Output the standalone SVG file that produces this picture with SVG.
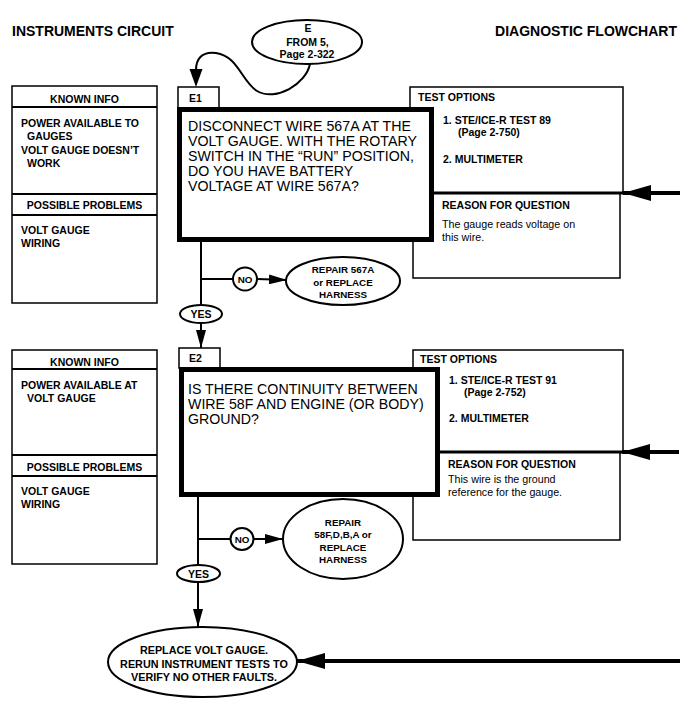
<svg xmlns="http://www.w3.org/2000/svg" width="693" height="714" viewBox="0 0 693 714">
<style>
text{font-family:"Liberation Sans",Arial,Helvetica,sans-serif;fill:#000}
.title{font-size:14px;font-weight:bold}
.q{font-size:14.2px}
.sm{font-size:10.5px;font-weight:bold}
.rs{font-size:10.7px}
.ov{font-size:9.8px;font-weight:bold}
.lbl{font-size:10.5px;font-weight:bold}
.thin{fill:#fff;stroke:#000;stroke-width:1.5}
.thick{fill:#fff;stroke:#000;stroke-width:5}
.oval{fill:#fff;stroke:#000;stroke-width:2}
.line{fill:none;stroke:#000;stroke-width:2}
.bigline{fill:none;stroke:#000;stroke-width:4}
.c{text-anchor:middle}
</style>
<defs>
<marker id="arr" markerUnits="userSpaceOnUse" markerWidth="18" markerHeight="10" refX="18" refY="5" orient="auto"><path d="M0,0 L18,5 L0,10 z" fill="#000"/></marker>
<marker id="big" markerUnits="userSpaceOnUse" markerWidth="28" markerHeight="16" refX="28" refY="8" orient="auto"><path d="M0,0 L28,8 L0,16 z" fill="#000"/></marker>
</defs>
<rect width="693" height="714" fill="#fff"/>
<text class="title" x="12" y="36">INSTRUMENTS CIRCUIT</text>
<text class="title" x="677" y="36" text-anchor="end">DIAGNOSTIC FLOWCHART</text>

<!-- Step E1 side panels -->
<g id="known1">
<rect class="thin" x="12" y="86" width="145" height="217"/>
<line class="line" x1="12" y1="107" x2="157" y2="107" stroke-width="1.5"/>
<line class="line" x1="12" y1="194" x2="157" y2="194" stroke-width="1.5"/>
<line class="line" x1="12" y1="215" x2="157" y2="215" stroke-width="1.5"/>
<text class="sm c" x="84.5" y="103">KNOWN INFO</text>
<text class="sm" x="21" y="127">POWER AVAILABLE TO</text>
<text class="sm" x="27" y="140">GAUGES</text>
<text class="sm" x="21" y="154">VOLT GAUGE DOESN’T</text>
<text class="sm" x="27" y="167">WORK</text>
<text class="sm c" x="84.5" y="209">POSSIBLE PROBLEMS</text>
<text class="sm" x="21" y="234">VOLT GAUGE</text>
<text class="sm" x="21" y="247">WIRING</text>
</g>
<g id="test1">
<rect class="thin" x="410" y="87" width="213" height="106"/>
<rect class="thin" x="413" y="193" width="207" height="85"/>
<line x1="432" y1="193" x2="623" y2="193" stroke="#000" stroke-width="3"/>
<text class="sm" x="418" y="101">TEST OPTIONS</text>
<text class="sm" x="443" y="124">1. STE/ICE-R TEST 89</text>
<text class="sm" x="458" y="136">(Page 2-750)</text>
<text class="sm" x="443" y="163">2. MULTIMETER</text>
<text class="sm" x="442" y="209">REASON FOR QUESTION</text>
<text class="rs" x="442" y="228">The gauge reads voltage on</text>
<text class="rs" x="442" y="241">this wire.</text>
</g>

<!-- Step E2 side panels -->
<g id="known2">
<rect class="thin" x="12" y="350" width="145" height="214"/>
<line class="line" x1="12" y1="369" x2="157" y2="369" stroke-width="1.5"/>
<line class="line" x1="12" y1="455" x2="157" y2="455" stroke-width="1.5"/>
<line class="line" x1="12" y1="476" x2="157" y2="476" stroke-width="1.5"/>
<text class="sm c" x="84.5" y="366">KNOWN INFO</text>
<text class="sm" x="21" y="389">POWER AVAILABLE AT</text>
<text class="sm" x="27" y="402">VOLT GAUGE</text>
<text class="sm c" x="84.5" y="471">POSSIBLE PROBLEMS</text>
<text class="sm" x="21" y="495">VOLT GAUGE</text>
<text class="sm" x="21" y="508">WIRING</text>
</g>
<g id="test2">
<rect class="thin" x="413" y="350" width="210" height="102"/>
<rect class="thin" x="413" y="452" width="207" height="88"/>
<line x1="438" y1="452" x2="623" y2="452" stroke="#000" stroke-width="3"/>
<text class="sm" x="420" y="363">TEST OPTIONS</text>
<text class="sm" x="449" y="384">1. STE/ICE-R TEST 91</text>
<text class="sm" x="464" y="396">(Page 2-752)</text>
<text class="sm" x="449" y="422">2. MULTIMETER</text>
<text class="sm" x="448" y="468">REASON FOR QUESTION</text>
<text class="rs" x="448" y="483">This wire is the ground</text>
<text class="rs" x="448" y="496">reference for the gauge.</text>
</g>

<!-- Question boxes -->
<g id="E1">
<rect class="thin" x="178" y="87" width="41" height="21"/>
<text class="lbl" x="189" y="101.5">E1</text>
<rect class="thick" x="179.5" y="109.5" width="252" height="130"/>
<text class="q" x="188" y="131">DISCONNECT WIRE 567A AT THE</text>
<text class="q" x="188" y="146">VOLT GAUGE. WITH THE ROTARY</text>
<text class="q" x="188" y="161">SWITCH IN THE “RUN” POSITION,</text>
<text class="q" x="188" y="176">DO YOU HAVE BATTERY</text>
<text class="q" x="188" y="191">VOLTAGE AT WIRE 567A?</text>
</g>
<g id="E2">
<rect class="thin" x="179" y="348" width="41" height="20"/>
<text class="lbl" x="189" y="362">E2</text>
<rect class="thick" x="181.5" y="369.5" width="256" height="125"/>
<text class="q" x="188" y="394">IS THERE CONTINUITY BETWEEN</text>
<text class="q" x="188" y="409">WIRE 58F AND ENGINE (OR BODY)</text>
<text class="q" x="188" y="424">GROUND?</text>
</g>

<!-- Connectors -->
<g id="connectors">
<path class="line" d="M310,64 C306,84 276,102 257,91 C242,82 238,56 216,53 C201,51 196,60 196,70" />
<path d="M189.5,69 L202.5,69 L196,87 z" fill="#000"/>
<line class="line" x1="201" y1="242" x2="201" y2="305"/>
<line class="line" x1="201" y1="279" x2="233" y2="279"/>
<line class="line" x1="257" y1="279" x2="287" y2="280" marker-end="url(#arr)"/>
<line class="line" x1="201" y1="323" x2="201" y2="348" marker-end="url(#arr)"/>
<line class="line" x1="198" y1="497" x2="198" y2="565"/>
<line class="line" x1="198" y1="539" x2="230.5" y2="539"/>
<line class="line" x1="253.5" y1="539" x2="283" y2="539" marker-end="url(#arr)"/>
<line class="line" x1="198" y1="582" x2="198" y2="627" marker-end="url(#arr)"/>
<line class="bigline" x1="680" y1="193" x2="623" y2="193" marker-end="url(#big)"/>
<line class="bigline" x1="679" y1="452" x2="622" y2="452" marker-end="url(#big)"/>
<line class="bigline" x1="680" y1="661" x2="297" y2="661" marker-end="url(#big)"/>
</g>

<!-- Ovals -->
<g id="E">
<ellipse class="oval" cx="307" cy="42" rx="55" ry="22"/>
<text class="lbl c" x="308" y="32">E</text>
<text class="lbl c" x="307.5" y="45.5">FROM 5,</text>
<text class="lbl c" x="307" y="58">Page 2-322</text>
</g>
<g id="no1">
<ellipse class="oval" cx="245" cy="279" rx="12" ry="11.5"/>
<text class="ov c" x="245" y="283" font-weight="normal">NO</text>
</g>
<g id="yes1">
<ellipse class="oval" cx="201" cy="314" rx="21" ry="9"/>
<text class="lbl c" x="201" y="318">YES</text>
</g>
<g id="repair1">
<ellipse class="oval" cx="343" cy="281" rx="57" ry="24"/>
<text class="ov c" x="343" y="273">REPAIR 567A</text>
<text class="ov c" x="343" y="286">or REPLACE</text>
<text class="ov c" x="343" y="298">HARNESS</text>
</g>
<g id="no2">
<ellipse class="oval" cx="242" cy="539" rx="11.5" ry="11"/>
<text class="ov c" x="242" y="543" font-weight="normal">NO</text>
</g>
<g id="yes2">
<ellipse class="oval" cx="198.5" cy="573.5" rx="21.5" ry="8.5"/>
<text class="lbl c" x="198.5" y="577.5">YES</text>
</g>
<g id="repair2">
<ellipse class="oval" cx="343" cy="539" rx="60" ry="40"/>
<text class="ov c" x="343" y="526">REPAIR</text>
<text class="ov c" x="343" y="538">58F,D,B,A or</text>
<text class="ov c" x="343" y="551">REPLACE</text>
<text class="ov c" x="343" y="563">HARNESS</text>
</g>
<g id="final">
<ellipse class="oval" cx="202.5" cy="662" rx="94.5" ry="35" stroke-width="2.5"/>
<text class="c" x="204" y="654" font-size="10.8" font-weight="bold">REPLACE VOLT GAUGE.</text>
<text class="c" x="204" y="668" font-size="10.8" font-weight="bold">RERUN INSTRUMENT TESTS TO</text>
<text class="c" x="204" y="681" font-size="10.8" font-weight="bold">VERIFY NO OTHER FAULTS.</text>
</g>
</svg>
